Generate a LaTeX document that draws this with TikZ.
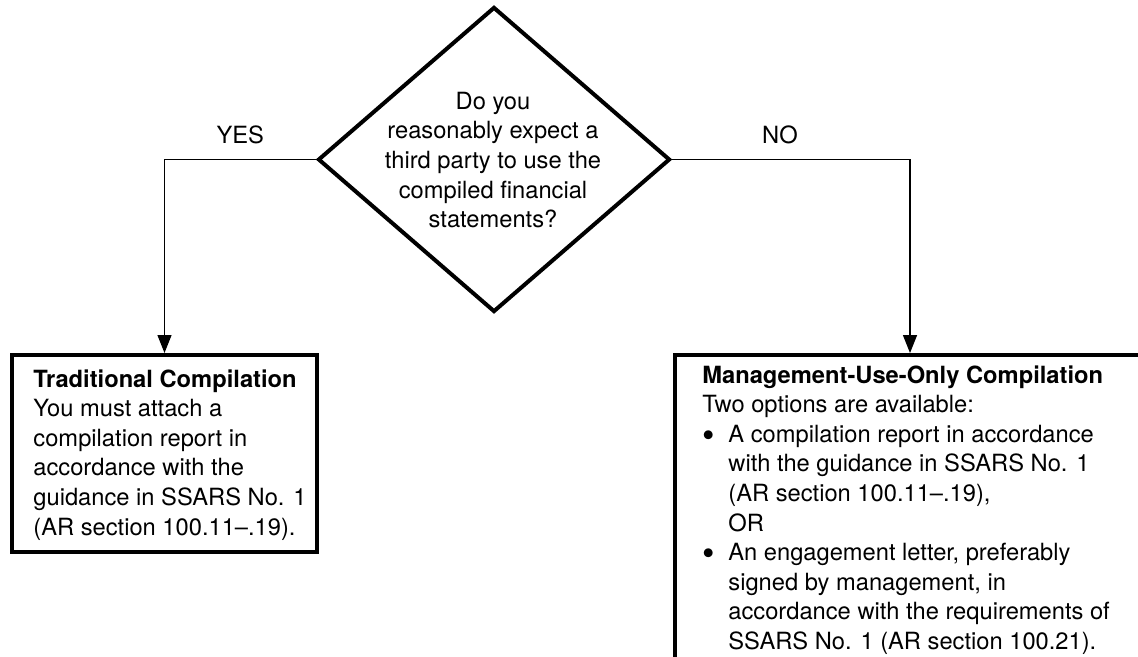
\documentclass[tikz,border=0pt]{standalone}
\usepackage{fontspec}
\usepackage{graphicx}
\setmainfont{TeX Gyre Heros}
\usetikzlibrary{shapes.geometric,arrows.meta}
\newcommand{\bigbul}{\makebox[13pt][l]{\raisebox{-0.2em}{\scalebox{1.5}{\textbullet}}}}
\begin{document}
\begin{tikzpicture}[x=0.5pt,y=-0.5pt,
  every node/.style={font=\fontsize{11.85}{14.8}\selectfont},
  bx/.style={draw, line width=2pt, rectangle, inner sep=0pt, outer sep=1pt},
  dia/.style={draw, line width=2pt, diamond, inner sep=0pt, outer sep=1pt},
  txt/.style={align=left, inner sep=0pt, anchor=north west},
  conn/.style={line width=0.7pt, -{Triangle[length=9pt,width=7pt]}},
  lbl/.style={above=7.5pt, inner sep=0pt}]
\useasboundingbox (0,0) rectangle (1138,657);
\clip (0,0) rectangle (1138,657);
\fill[white] (0,0) rectangle (1138,657);

% decision
\node[dia, minimum width=176pt, minimum height=152.5pt] (dec) at (494,159.5) {};
\node[align=center, inner sep=0pt] (q) at (493,160)
  {Do you\\reasonably expect a\\third party to use the\\compiled financial\\statements?};

% boxes
\node[bx, minimum width=152.5pt, minimum height=98.5pt] (trad) at (164.5,453.5) {};
\node[txt] (tradtxt) at (33,369)
  {\textbf{Traditional Compilation}\\
   You must attach a\\
   compilation report in\\
   accordance with the\\
   guidance in SSARS No. 1\\
   (AR section 100.11–.19).};

\node[bx, minimum width=235pt, minimum height=172.5pt] (mgmt) at (910,527.5) {};
\node[txt] (mgmttxt) at (702,365)
  {\textbf{Management-Use-Only Compilation}\\
   Two options are available:\\
   \bigbul A compilation report in accordance\\
   \hspace*{13pt}with the guidance in SSARS No. 1\\
   \hspace*{13pt}(AR section 100.11–.19),\\
   \hspace*{13pt}OR\\
   \bigbul An engagement letter, preferably\\
   \hspace*{13pt}signed by management, in\\
   \hspace*{13pt}accordance with the requirements of\\
   \hspace*{13pt}SSARS No. 1 (AR section 100.21).};

% connectors
\draw[conn] (dec.west) -| node[lbl, pos=0.25] (yes) {YES} (trad.north);
\draw[conn] (dec.east) -| node[lbl, pos=0.25, xshift=-5.5pt] (no) {NO} (mgmt.north);
\end{tikzpicture}
\end{document}
